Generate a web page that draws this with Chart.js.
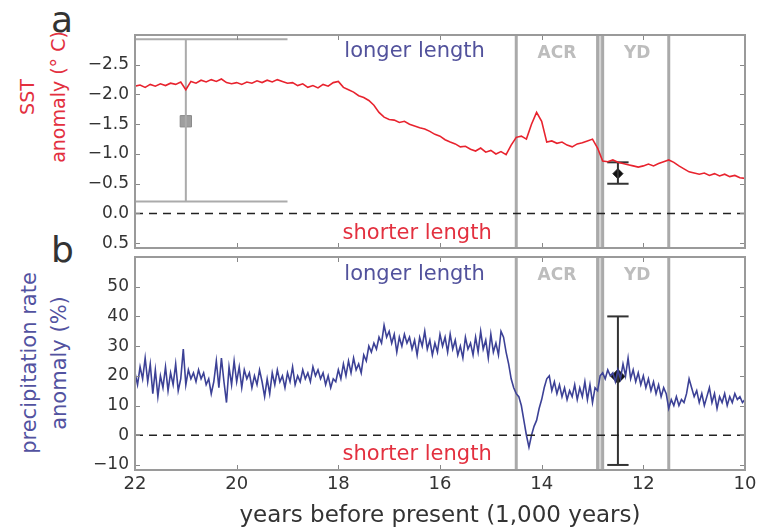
<!DOCTYPE html>
<html>
<head>
<meta charset="utf-8">
<script src="https://cdn.jsdelivr.net/npm/chart.js@4.4.1/dist/chart.umd.min.js"></script>
<style>
  body { margin: 0; background: #fff; width: 757px; height: 531px; position: relative; overflow: hidden; font-family: 'DejaVu Sans', sans-serif; }
  canvas { position: absolute; left: 0; }
  #chartA { top: 0; }
  #chartB { top: 252px; }
  .panel { position: absolute; color: #333; font-size: 36px; line-height: 1; }
  .ytitle { position: absolute; transform: translate(-50%, -50%) rotate(-90deg); white-space: nowrap; text-align: center; }
</style>
</head>
<body>
<div class="panel" style="left:51px;top:2px">a</div>
<div class="panel" style="left:51px;top:232px">b</div>
<div class="ytitle" style="left:43px;top:97px;color:#e3303f;font-size:19px;line-height:31px">SST<br>anomaly (° C)</div>
<div class="ytitle" style="left:44px;top:363px;color:#5252a0;font-size:21px;line-height:30px">precipitation rate<br>anomaly (%)</div>
<canvas id="chartA" width="757" height="252"></canvas>
<canvas id="chartB" width="757" height="279"></canvas>
<script>
// SST anomaly (°C), [age in kyr BP, value]
const sst = [
  [22.0,-2.14],[21.9,-2.16],[21.8,-2.12],[21.7,-2.17],[21.6,-2.14],[21.5,-2.18],[21.4,-2.15],[21.3,-2.19],
  [21.2,-2.17],[21.1,-2.21],[21.0,-2.08],[20.9,-2.22],[20.8,-2.19],[20.7,-2.24],[20.6,-2.21],[20.5,-2.25],
  [20.4,-2.22],[20.3,-2.26],[20.2,-2.20],[20.1,-2.18],[20.0,-2.20],[19.9,-2.17],[19.8,-2.21],[19.7,-2.19],
  [19.6,-2.23],[19.5,-2.20],[19.4,-2.24],[19.3,-2.21],[19.2,-2.25],[19.1,-2.22],[19.0,-2.19],[18.9,-2.20],
  [18.8,-2.15],[18.7,-2.18],[18.6,-2.12],[18.5,-2.15],[18.4,-2.11],[18.3,-2.17],[18.2,-2.14],[18.1,-2.20],
  [18.0,-2.22],[17.9,-2.12],[17.8,-2.08],[17.7,-2.04],[17.6,-1.98],[17.5,-1.95],[17.4,-1.90],[17.3,-1.82],
  [17.2,-1.70],[17.1,-1.62],[17.0,-1.58],[16.9,-1.57],[16.8,-1.53],[16.7,-1.55],[16.6,-1.50],[16.5,-1.47],
  [16.4,-1.44],[16.3,-1.42],[16.2,-1.38],[16.1,-1.33],[16.0,-1.30],[15.9,-1.24],[15.8,-1.20],[15.7,-1.17],
  [15.6,-1.12],[15.5,-1.13],[15.4,-1.08],[15.3,-1.05],[15.2,-1.10],[15.1,-1.03],[15.0,-1.06],[14.9,-1.00],
  [14.8,-1.04],[14.7,-0.99],[14.6,-1.15],[14.5,-1.28],[14.4,-1.30],[14.3,-1.25],[14.2,-1.50],[14.1,-1.70],
  [14.0,-1.55],[13.9,-1.20],[13.8,-1.22],[13.7,-1.18],[13.6,-1.20],[13.5,-1.15],[13.4,-1.12],[13.3,-1.17],
  [13.2,-1.19],[13.1,-1.22],[13.0,-1.25],[12.9,-1.10],[12.8,-0.88],[12.7,-0.87],[12.6,-0.90],[12.5,-0.86],
  [12.4,-0.84],[12.3,-0.82],[12.2,-0.80],[12.1,-0.78],[12.0,-0.80],[11.9,-0.83],[11.8,-0.80],[11.7,-0.84],
  [11.6,-0.87],[11.5,-0.90],[11.4,-0.86],[11.3,-0.80],[11.2,-0.75],[11.1,-0.70],[11.0,-0.68],[10.9,-0.66],
  [10.8,-0.68],[10.7,-0.64],[10.6,-0.67],[10.5,-0.63],[10.4,-0.66],[10.3,-0.62],[10.2,-0.64],[10.1,-0.60],
  [10.0,-0.59]
];

// precipitation rate anomaly (%), [age in kyr BP, value]
const precip = [
  [22.00,21],[21.95,17],[21.90,23],[21.85,19],[21.80,26],[21.75,18],[21.70,24],[21.65,14],[21.60,22],[21.55,13],
  [21.50,20],[21.45,16],[21.40,23],[21.35,15],[21.30,21],[21.25,17],[21.20,24],[21.15,15],[21.10,19],[21.05,29],
  [21.00,17],[20.95,22],[20.90,19],[20.85,21],[20.80,18],[20.75,22],[20.70,19],[20.65,21],[20.60,17],[20.55,19],
  [20.50,14],[20.45,18],[20.40,25],[20.35,16],[20.30,26],[20.25,18],[20.20,11],[20.15,23],[20.10,17],[20.05,25],
  [20.00,18],[19.95,23],[19.90,16],[19.85,22],[19.80,19],[19.75,21],[19.70,16],[19.65,20],[19.60,17],[19.55,22],
  [19.50,18],[19.45,13],[19.40,19],[19.35,14],[19.30,21],[19.25,17],[19.20,22],[19.15,18],[19.10,20],[19.05,16],
  [19.00,21],[18.95,18],[18.90,23],[18.85,17],[18.80,20],[18.75,18],[18.70,22],[18.65,19],[18.60,21],[18.55,18],
  [18.50,23],[18.45,20],[18.40,22],[18.35,19],[18.30,21],[18.25,17],[18.20,20],[18.15,16],[18.10,19],[18.05,18],
  [18.00,22],[17.95,19],[17.90,24],[17.85,20],[17.80,25],[17.75,21],[17.70,26],[17.65,22],[17.60,24],[17.55,21],
  [17.50,27],[17.45,25],[17.40,30],[17.35,28],[17.30,31],[17.25,29],[17.20,33],[17.15,31],[17.10,37],[17.05,33],
  [17.00,35],[16.95,31],[16.90,34],[16.85,28],[16.80,33],[16.75,30],[16.70,34],[16.65,31],[16.60,33],[16.55,29],
  [16.50,32],[16.45,27],[16.40,33],[16.35,30],[16.30,35],[16.25,29],[16.20,32],[16.15,27],[16.10,31],[16.05,28],
  [16.00,34],[15.95,30],[15.90,33],[15.85,28],[15.80,34],[15.75,29],[15.70,32],[15.65,27],[15.60,30],[15.55,26],
  [15.50,33],[15.45,29],[15.40,31],[15.35,27],[15.30,33],[15.25,28],[15.20,35],[15.15,29],[15.10,32],[15.05,26],
  [15.00,34],[14.95,28],[14.90,31],[14.85,27],[14.80,35],[14.75,33],[14.70,28],[14.65,24],[14.60,19],[14.55,16],
  [14.50,14],[14.45,13],[14.40,10],[14.35,5],[14.30,0],[14.25,-4],[14.20,0],[14.15,3],[14.10,5],[14.05,9],
  [14.00,12],[13.95,16],[13.90,19],[13.85,20],[13.80,15],[13.75,18],[13.70,14],[13.65,17],[13.60,13],[13.55,16],
  [13.50,12],[13.45,15],[13.40,13],[13.35,17],[13.30,12],[13.25,16],[13.20,13],[13.15,18],[13.10,12],[13.05,17],
  [13.00,11],[12.95,16],[12.90,15],[12.85,20],[12.80,21],[12.75,19],[12.70,22],[12.65,20],[12.60,21],[12.55,18],
  [12.50,22],[12.45,19],[12.40,24],[12.35,20],[12.30,26],[12.25,19],[12.20,22],[12.15,18],[12.10,21],[12.05,17],
  [12.00,20],[11.95,16],[11.90,19],[11.85,15],[11.80,18],[11.75,14],[11.70,17],[11.65,13],[11.60,16],[11.55,14],
  [11.50,9],[11.45,12],[11.40,10],[11.35,13],[11.30,10],[11.25,12],[11.20,11],[11.15,14],[11.10,19],[11.05,16],
  [11.00,13],[10.95,15],[10.90,11],[10.85,14],[10.80,10],[10.75,13],[10.70,16],[10.65,11],[10.60,14],[10.55,9],
  [10.50,13],[10.45,11],[10.40,14],[10.35,10],[10.30,13],[10.25,11],[10.20,14],[10.15,12],[10.10,13],[10.05,11],
  [10.00,12]
];

// estimates with error bars: [age, value, low, high]
const sstCoreEstimate = [21.0, -1.55, -2.93, -0.2];
const sstYdEstimate = [12.5, -0.67, -0.86, -0.5];
const precipYdEstimate = [12.5, 19.8, -10, 40];

// period boundaries (kyr BP): ACR 14.5-12.9, YD 12.8-11.5
const periodLines = [14.5, 12.9, 12.8, 11.5];
const periodBand = [12.9, 12.8];
const periodNames = ['ACR', 'YD'];
const periodLabelAges = [13.7, 12.12];

const ageTicks = [22, 20, 18, 16, 14, 12, 10];
const sstTicks = [-2.5, -2.0, -1.5, -1.0, -0.5, 0.0, 0.5];
const precipTicks = [50, 40, 30, 20, 10, 0, -10];

Chart.defaults.font.family = "'DejaVu Sans', sans-serif";
Chart.defaults.color = '#333';

const RED = '#e8232e';
const BLUE = '#3c4196';
const fmt = (v, d) => (v < 0 ? '\u2212' : '') + Math.abs(v).toFixed(d);

function errorBar(est, half, color, width) {
  const [age, , low, high] = est;
  const line = pts => ({ type: 'line', data: pts, borderColor: color, borderWidth: width, pointRadius: 0, fill: false });
  return [
    line([{ x: age, y: low }, { x: age, y: high }]),
    line([{ x: age + half, y: low }, { x: age - half, y: low }]),
    line([{ x: age + half, y: high }, { x: age - half, y: high }])
  ];
}

const zeroLine = { type: 'line', data: [{ x: 22, y: 0 }, { x: 10, y: 0 }], borderColor: '#222', borderWidth: 1.5, borderDash: [8, 6], pointRadius: 0 };

const decor = {
  id: 'decor',
  beforeDatasetsDraw(chart, args, o) {
    const { ctx, chartArea: a, scales: { x, y } } = chart;
    ctx.save();
    const b0 = x.getPixelForValue(periodBand[0]), b1 = x.getPixelForValue(periodBand[1]);
    ctx.fillStyle = '#d4d4d4';
    ctx.fillRect(Math.min(b0, b1), a.top, Math.abs(b1 - b0), a.bottom - a.top);
    ctx.strokeStyle = '#aaa';
    ctx.lineWidth = 3;
    periodLines.forEach(v => {
      const px = x.getPixelForValue(v);
      ctx.beginPath(); ctx.moveTo(px, a.top); ctx.lineTo(px, a.bottom); ctx.stroke();
    });
    ctx.textAlign = 'center';
    ctx.textBaseline = 'middle';
    ctx.font = "bold 17px 'DejaVu Sans'";
    ctx.fillStyle = '#bdbdbd';
    periodNames.forEach((n, i) => ctx.fillText(n, x.getPixelForValue(periodLabelAges[i]), y.getPixelForValue(o.labelY)));
    ctx.font = "21px 'DejaVu Sans'";
    ctx.fillStyle = '#52529c';
    ctx.fillText('longer length', x.getPixelForValue(16.5), y.getPixelForValue(o.longerY));
    ctx.fillStyle = '#e3303f';
    ctx.fillText('shorter length', x.getPixelForValue(16.45), y.getPixelForValue(o.shorterY));
    ctx.restore();
  },
  afterDraw(chart, args, o) {
    const { ctx, chartArea: a, scales: { x, y } } = chart;
    ctx.save();
    ctx.strokeStyle = '#888';
    ctx.lineWidth = 1;
    ageTicks.forEach(v => {
      const px = Math.round(x.getPixelForValue(v)) + 0.5;
      ctx.beginPath();
      ctx.moveTo(px, a.bottom); ctx.lineTo(px, a.bottom - 5);
      ctx.moveTo(px, a.top); ctx.lineTo(px, a.top + 5);
      ctx.stroke();
    });
    o.yTicks.forEach(v => {
      const py = Math.round(y.getPixelForValue(v)) + 0.5;
      ctx.beginPath();
      ctx.moveTo(a.left, py); ctx.lineTo(a.left + 5, py);
      ctx.moveTo(a.right, py); ctx.lineTo(a.right - 5, py);
      ctx.stroke();
    });
    ctx.strokeStyle = '#9a9a9a';
    ctx.lineWidth = 2;
    ctx.strokeRect(a.left, a.top, a.right - a.left, a.bottom - a.top);
    ctx.restore();
  }
};

const yScale = (min, max, ticks, digits, reverse) => ({
  type: 'linear', min, max, reverse,
  afterFit(s) { s.width = 135; s.paddingTop = 0; s.paddingBottom = 0; },
  afterBuildTicks(s) { s.ticks = ticks.map(v => ({ value: v })); },
  ticks: { callback: v => fmt(v, digits), color: '#333', font: { size: 17 }, padding: 6 },
  grid: { display: false, drawTicks: false },
  border: { display: false }
});

new Chart(document.getElementById('chartA'), {
  type: 'line',
  data: {
    datasets: [
      zeroLine,
      { data: sst.map(([x, y]) => ({ x, y })), borderColor: RED, borderWidth: 1.6, pointRadius: 0 },
      ...errorBar(sstCoreEstimate, 2.0, '#ababab', 2),
      { type: 'scatter', data: [{ x: sstCoreEstimate[0], y: sstCoreEstimate[1] }], pointStyle: 'rect', pointRadius: 8, backgroundColor: '#9e9e9e', borderColor: '#8a8a8a', borderWidth: 1 },
      ...errorBar(sstYdEstimate, 0.21, '#333', 2),
      { type: 'scatter', data: [{ x: sstYdEstimate[0], y: sstYdEstimate[1] }], pointStyle: 'rectRot', pointRadius: 5, backgroundColor: '#111', borderColor: '#111' }
    ]
  },
  options: {
    responsive: false, animation: false,
    layout: { autoPadding: false, padding: { left: 0, right: 12, top: 35, bottom: 4 } },
    plugins: { legend: { display: false }, tooltip: { enabled: false },
      decor: { labelY: -2.69, longerY: -2.72, shorterY: 0.34, yTicks: sstTicks } },
    scales: {
      x: { type: 'linear', min: 10, max: 22, reverse: true, display: false },
      y: yScale(-3.0, 0.58, sstTicks, 1, true)
    }
  },
  plugins: [decor]
});

new Chart(document.getElementById('chartB'), {
  type: 'line',
  data: {
    datasets: [
      zeroLine,
      { data: precip.map(([x, y]) => ({ x, y })), borderColor: BLUE, borderWidth: 1.6, pointRadius: 0 },
      ...errorBar(precipYdEstimate, 0.21, '#333', 2),
      { type: 'scatter', data: [{ x: precipYdEstimate[0], y: precipYdEstimate[1] }], pointStyle: 'rectRot', pointRadius: 7, backgroundColor: '#111', borderColor: '#111' }
    ]
  },
  options: {
    responsive: false, animation: false,
    layout: { autoPadding: false, padding: { left: 0, right: 12, top: 5, bottom: 0 } },
    plugins: { legend: { display: false }, tooltip: { enabled: false },
      decor: { labelY: 53.9, longerY: 54.2, shorterY: -6.5, yTicks: precipTicks } },
    scales: {
      x: {
        type: 'linear', min: 10, max: 22, reverse: true,
        afterFit(s) { s.height = 61; s.paddingLeft = 0; s.paddingRight = 0; },
        afterBuildTicks(s) { s.ticks = ageTicks.map(v => ({ value: v })); },
        ticks: { color: '#333', font: { size: 18 }, padding: 4, maxRotation: 0 },
        grid: { display: false, drawTicks: false },
        border: { display: false },
        title: { display: true, text: 'years before present (1,000 years)', color: '#333', font: { size: 23 }, padding: { top: 0, bottom: 1 } }
      },
      y: yScale(-11.7, 60, precipTicks, 0, false)
    }
  },
  plugins: [decor]
});
</script>
</body>
</html>
